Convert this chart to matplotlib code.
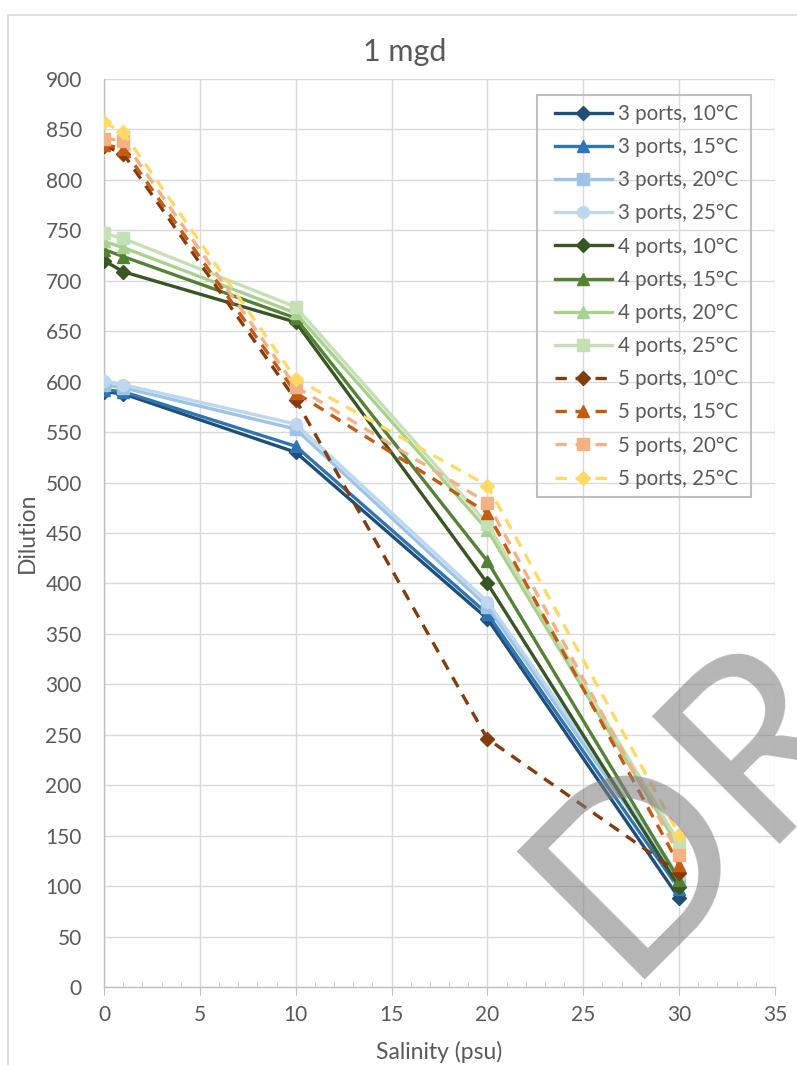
import matplotlib
matplotlib.use("Agg")
import matplotlib.pyplot as plt
from matplotlib.patches import Rectangle

plt.rcParams['font.family'] = ['Lato', 'DejaVu Sans']

# Salinity (psu) sample points
salinity = [0, 1, 10, 20, 30]

# Dilution for each port count / temperature case
d3_10 = [590, 588, 530, 365, 88]
d3_15 = [592, 590, 536, 370, 97]
d3_20 = [597, 594, 553, 377, 105]
d3_25 = [601, 597, 558, 382, 110]

d4_10 = [720, 709, 659, 400, 99]
d4_15 = [731, 724, 663, 422, 106]
d4_20 = [739, 733, 668, 453, 138]
d4_25 = [747, 742, 674, 459, 143]

d5_10 = [834, 826, 582, 246, 113]
d5_15 = [835, 831, 589, 470, 121]
d5_20 = [841, 839, 595, 480, 131]
d5_25 = [857, 847, 603, 497, 151]

labels = ["3 ports, 10°C", "3 ports, 15°C", "3 ports, 20°C", "3 ports, 25°C",
          "4 ports, 10°C", "4 ports, 15°C", "4 ports, 20°C", "4 ports, 25°C",
          "5 ports, 10°C", "5 ports, 15°C", "5 ports, 20°C", "5 ports, 25°C"]
series = [d3_10, d3_15, d3_20, d3_25,
          d4_10, d4_15, d4_20, d4_25,
          d5_10, d5_15, d5_20, d5_25]
colors = ["#1f4e79", "#2e75b6", "#9dc3e6", "#bdd7ee",
          "#375623", "#548235", "#a9d18e", "#c5e0b4",
          "#843c0c", "#c55a11", "#f4b183", "#ffd966"]
markers = ["D", "^", "s", "o",
           "D", "^", "^", "s",
           "D", "^", "s", "D"]
dashed = [False] * 8 + [True] * 4

W, H = 797, 1065
fig = plt.figure(figsize=(W / 100, H / 100), dpi=100)
ax = fig.add_axes([104 / W, 1 - 987 / H, (775 - 104) / W, (987 - 79) / H])

text_col = "#595959"
grid_col = "#d9d9d9"

for y, lab, c, m, dsh in zip(series, labels, colors, markers, dashed):
    ms = 7 if m == "D" else (8.5 if m in ("^", "o") else 8)
    kw = dict(color=c, lw=2.4, marker=m, markersize=ms, markerfacecolor=c,
              markeredgecolor=c, label=lab, zorder=3)
    if dsh:
        kw.update(linestyle=(0, (3.4, 2.6)), dash_capstyle="butt")
    ax.plot(salinity, y, **kw)

ax.set_xlim(0, 35)
ax.set_ylim(0, 900)
ax.set_xticks(range(0, 36, 5))
ax.set_xticks(range(0, 36, 1), minor=True)
ax.set_yticks(range(0, 901, 50))
ax.grid(True, which="major", color=grid_col, lw=1.0, zorder=0)
ax.set_axisbelow(True)

for s in ("top", "right"):
    ax.spines[s].set_visible(False)
for s in ("left", "bottom"):
    ax.spines[s].set_color("#bfbfbf")
    ax.spines[s].set_linewidth(1.0)

ax.tick_params(axis="y", length=0, pad=16, labelsize=15, labelcolor=text_col)
ax.tick_params(axis="x", which="major", length=6, direction="out", color="#bfbfbf",
               pad=7, labelsize=15, labelcolor=text_col)
ax.tick_params(axis="x", which="minor", length=3.5, direction="in", color="#bfbfbf")

ax.set_xlabel("Salinity (psu)", fontsize=16.5, color=text_col)
ax.set_ylabel("Dilution", fontsize=16.5, color=text_col)
ax.xaxis.set_label_coords(0.5, (987 - 1052) / 908)
ax.xaxis.label.set_va("center")
ax.yaxis.set_label_coords((27 - 104) / 671, 0.5)
ax.yaxis.label.set_va("center")

fig.text(405 / W, 1 - 52 / H, "1 mgd", ha="center", va="center",
         fontsize=22, color=text_col)

leg = ax.legend(loc="upper left", bbox_to_anchor=(555 / W, 1 - 104 / H),
                bbox_transform=fig.transFigure, fontsize=14.8, frameon=False,
                borderaxespad=0, borderpad=0, handlelength=2.77,
                handletextpad=0.29, labelspacing=0.64)
for t in leg.get_texts():
    t.set_color(text_col)

# legend frame
fig.patches.append(Rectangle((537 / W, 1 - 497 / H), (751 - 537) / W, (497 - 95) / H,
                             transform=fig.transFigure, fill=True, facecolor="none",
                             edgecolor="#bfbfbf", lw=1.5, zorder=4))

# chart area border
fig.patches.append(Rectangle((8 / W, -0.01), 1.0, 1 - 15 / H + 0.01,
                             transform=fig.transFigure, fill=False,
                             edgecolor="#d9d9d9", lw=1.2, zorder=0))

# draft watermark
fig.text(623 / W, 1 - 980 / H, "DRAFT", rotation=45, rotation_mode="anchor",
         ha="left", va="baseline", fontsize=182, color="#808080", alpha=0.58,
         zorder=10)

fig.savefig("out.png", dpi=100)
